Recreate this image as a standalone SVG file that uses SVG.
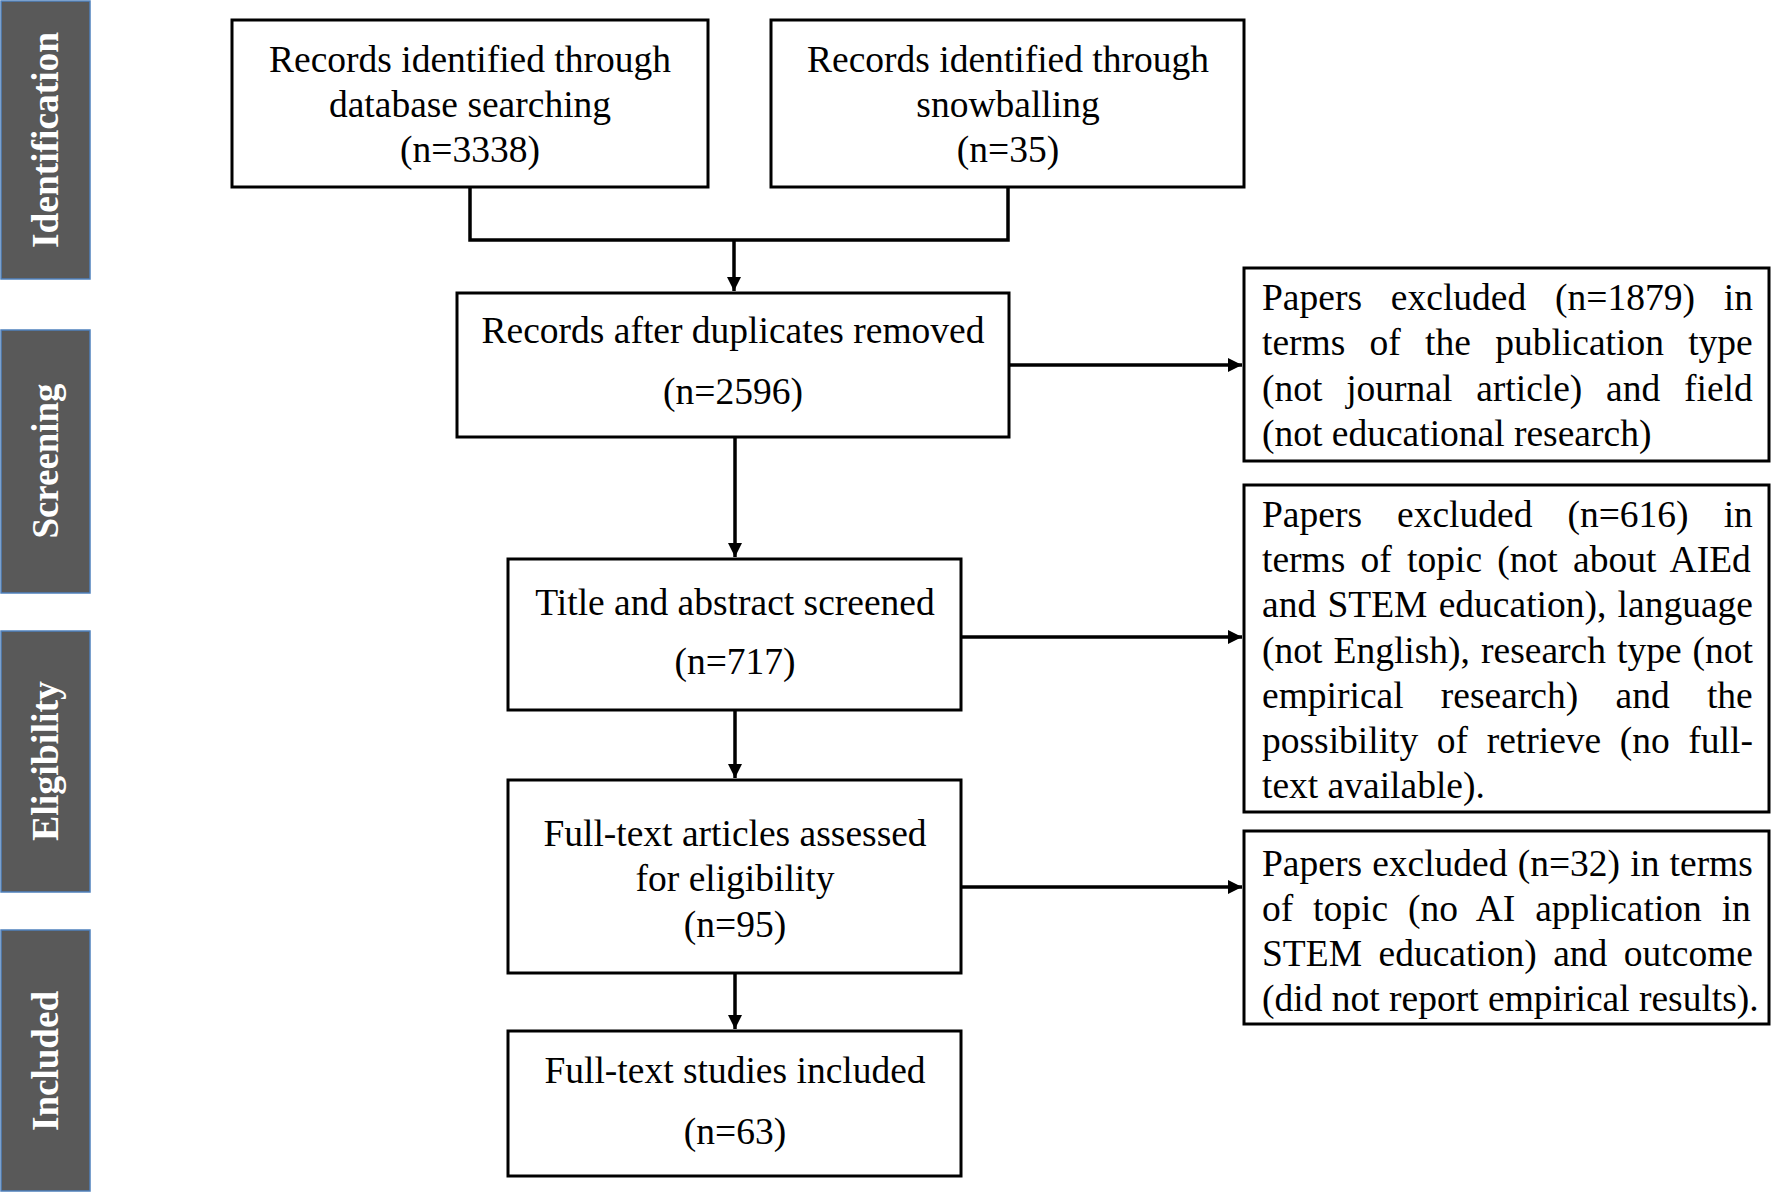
<svg xmlns="http://www.w3.org/2000/svg" width="1771" height="1192" viewBox="0 0 1771 1192">
<style>
  .bar { fill: #595959; stroke: #4f81bd; stroke-width: 1.5; }
  .bartxt { fill: #ffffff; font-family: "Liberation Serif", "Times New Roman", serif; font-weight: bold; font-size: 38px; text-anchor: middle; }
  .box { fill: #ffffff; stroke: #000000; stroke-width: 3; }
  .t { fill: #000000; font-family: "Liberation Serif", "Times New Roman", serif; font-size: 37.5px; }
  .c { text-anchor: middle; }
  .conn { fill: none; stroke: #000000; stroke-width: 3.5; }
</style>
<defs>
  <marker id="ah" viewBox="0 0 10 10" refX="10" refY="5" markerWidth="4" markerHeight="4" markerUnits="strokeWidth" orient="auto">
    <path d="M0,0 L10,5 L0,10 Z" fill="#000000"/>
  </marker>
</defs>
<rect width="1771" height="1192" fill="#ffffff"/>

<g id="phase-identification">
  <rect class="bar" x="1" y="1" width="89" height="278"/>
  <text class="bartxt" transform="translate(45,140) rotate(-90)" y="13" textLength="216" lengthAdjust="spacingAndGlyphs">Identification</text>
</g>
<g id="phase-screening">
  <rect class="bar" x="1" y="330" width="89" height="263"/>
  <text class="bartxt" transform="translate(45,461) rotate(-90)" y="13" textLength="155" lengthAdjust="spacingAndGlyphs">Screening</text>
</g>
<g id="phase-eligibility">
  <rect class="bar" x="1" y="631" width="89" height="261"/>
  <text class="bartxt" transform="translate(45,761) rotate(-90)" y="13" textLength="160" lengthAdjust="spacingAndGlyphs">Eligibility</text>
</g>
<g id="phase-included">
  <rect class="bar" x="1" y="930" width="89" height="261"/>
  <text class="bartxt" transform="translate(45,1061) rotate(-90)" y="13" textLength="140" lengthAdjust="spacingAndGlyphs">Included</text>
</g>

<g id="connectors">
  <path class="conn" d="M470,187 V240 H1008 V187"/>
  <path class="conn" d="M734,240 V291" marker-end="url(#ah)"/>
  <path class="conn" d="M735,437 V557" marker-end="url(#ah)"/>
  <path class="conn" d="M735,710 V778" marker-end="url(#ah)"/>
  <path class="conn" d="M735,973 V1029" marker-end="url(#ah)"/>
  <path class="conn" d="M1009,365 H1242" marker-end="url(#ah)"/>
  <path class="conn" d="M961,637 H1242" marker-end="url(#ah)"/>
  <path class="conn" d="M961,887 H1242" marker-end="url(#ah)"/>
</g>

<g id="node-database">
  <rect class="box" x="232" y="20" width="476" height="167"/>
  <text class="t c" x="470" y="72">Records identified through</text>
  <text class="t c" x="470" y="117">database searching</text>
  <text class="t c" x="470" y="162">(n=3338)</text>
</g>
<g id="node-snowballing">
  <rect class="box" x="771" y="20" width="473" height="167"/>
  <text class="t c" x="1008" y="72">Records identified through</text>
  <text class="t c" x="1008" y="117">snowballing</text>
  <text class="t c" x="1008" y="162">(n=35)</text>
</g>
<g id="node-duplicates">
  <rect class="box" x="457" y="293" width="552" height="144"/>
  <text class="t c" x="733" y="343">Records after duplicates removed</text>
  <text class="t c" x="733" y="404">(n=2596)</text>
</g>
<g id="node-screened">
  <rect class="box" x="508" y="559" width="453" height="151"/>
  <text class="t c" x="735" y="615">Title and abstract screened</text>
  <text class="t c" x="735" y="674">(n=717)</text>
</g>
<g id="node-fulltext">
  <rect class="box" x="508" y="780" width="453" height="193"/>
  <text class="t c" x="735" y="846">Full-text articles assessed</text>
  <text class="t c" x="735" y="891">for eligibility</text>
  <text class="t c" x="735" y="937">(n=95)</text>
</g>
<g id="node-included">
  <rect class="box" x="508" y="1031" width="453" height="145"/>
  <text class="t c" x="735" y="1083">Full-text studies included</text>
  <text class="t c" x="735" y="1144">(n=63)</text>
</g>

<g id="node-excluded-1879">
  <rect class="box" x="1244" y="268" width="525" height="193"/>
  <text class="t" x="1262" y="310" word-spacing="19.5">Papers excluded (n=1879) in</text>
  <text class="t" x="1262" y="355" word-spacing="14.9">terms of the publication type</text>
  <text class="t" x="1262" y="401" word-spacing="14.4">(not journal article) and field</text>
  <text class="t" x="1262" y="446">(not educational research)</text>
</g>
<g id="node-excluded-616">
  <rect class="box" x="1244" y="485" width="525" height="327"/>
  <text class="t" x="1262" y="527" word-spacing="25.7">Papers excluded (n=616) in</text>
  <text class="t" x="1262" y="572" word-spacing="5.9">terms of topic (not about AIEd</text>
  <text class="t" x="1262" y="617" word-spacing="1.9">and STEM education), language</text>
  <text class="t" x="1262" y="663" word-spacing="1.7">(not English), research type (not</text>
  <text class="t" x="1262" y="708" word-spacing="27.9">empirical research) and the</text>
  <text class="t" x="1262" y="753" word-spacing="9.2">possibility of retrieve (no full-</text>
  <text class="t" x="1262" y="798">text available).</text>
</g>
<g id="node-excluded-32">
  <rect class="box" x="1244" y="831" width="525" height="193"/>
  <text class="t" x="1262" y="876" word-spacing="0.8">Papers excluded (n=32) in terms</text>
  <text class="t" x="1262" y="921" word-spacing="10.5">of topic (no AI application in</text>
  <text class="t" x="1262" y="966" word-spacing="7.1">STEM education) and outcome</text>
  <text class="t" x="1262" y="1011">(did not report empirical results).</text>
</g>
</svg>
